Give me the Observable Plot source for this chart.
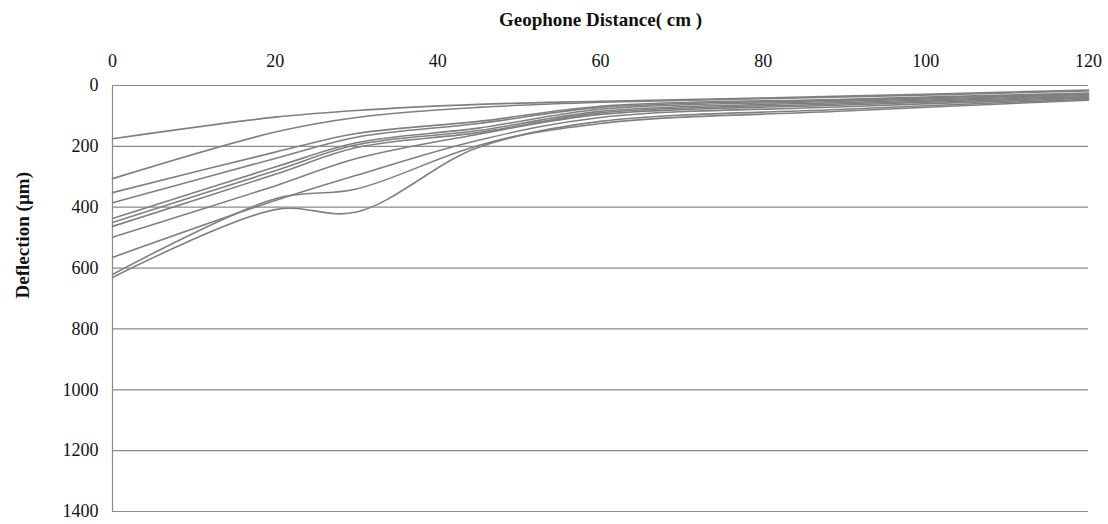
<!DOCTYPE html>
<html>
<head>
<meta charset="utf-8">
<script src="https://cdn.jsdelivr.net/npm/d3@7"></script>
<script src="https://cdn.jsdelivr.net/npm/@observablehq/plot@0.6"></script>
<style>
  html, body { margin: 0; padding: 0; background: #fff; }
  #chart svg { display: block; }
</style>
</head>
<body>
<div id="chart"></div>
<script>
// Geophone positions (cm)
const distances = [0, 20, 30, 45, 60, 90, 120];
// Deflection basins (µm), one array per test
const test1  = [175, 104, 82, 62, 52, 35, 15];
const test2  = [306, 153, 105, 72, 55, 38, 18];
const test3  = [352, 219, 158, 118, 68, 45, 25];
const test4  = [385, 240, 170, 125, 72, 48, 28];
const test5  = [437, 268, 188, 140, 78, 52, 30];
const test6  = [450, 280, 195, 148, 85, 56, 33];
const test7  = [463, 292, 204, 155, 90, 60, 36];
const test8  = [499, 330, 240, 160, 95, 64, 39];
const test9  = [565, 378, 295, 180, 105, 70, 42];
const test10 = [621, 372, 340, 197, 118, 78, 45];
const test11 = [631, 408, 416, 203, 125, 84, 48];
const series = [test1, test2, test3, test4, test5, test6, test7, test8, test9, test10, test11];

const xTicks = [0, 20, 40, 60, 80, 100, 120];
const yTicks = [0, 200, 400, 600, 800, 1000, 1200, 1400];

const xTitle = "Geophone Distance( cm )";
const yTitle = "Deflection (µm)";

const rows = series.flatMap((vals, i) =>
  vals.map((v, j) => ({test: "T" + (i + 1), d: distances[j], defl: v})));

const chart = Plot.plot({
  width: 1108,
  height: 524,
  marginLeft: 112,
  marginRight: 20,
  marginTop: 85,
  marginBottom: 13,
  style: {fontFamily: "'Liberation Serif', 'Times New Roman', serif", fontSize: "18px", color: "#111", background: "#fff"},
  x: {domain: [0, 120], ticks: xTicks},
  y: {domain: [0, 1400], reverse: true, ticks: yTicks},
  marks: [
    Plot.ruleY(yTicks, {stroke: "#8a8a8a", strokeWidth: 1.2}),
    Plot.ruleX([0], {stroke: "#8a8a8a", strokeWidth: 1.2}),
    Plot.line(rows, {x: "d", y: "defl", z: "test", curve: "catmull-rom", stroke: "#808080", strokeWidth: 1.6}),
    Plot.axisX(xTicks, {anchor: "top", tickSize: 0, tickPadding: 19, label: null, fontSize: 18, tickFormat: d3.format("d")}),
    Plot.axisY(yTicks, {anchor: "left", tickSize: 0, tickPadding: 14, label: null, fontSize: 18, tickFormat: d3.format("d")}),
    Plot.text([xTitle], {frameAnchor: "top", dy: -73, fontWeight: "bold", fontSize: 19}),
    Plot.text([yTitle], {frameAnchor: "left", dx: -90, rotate: -90, fontWeight: "bold", fontSize: 19})
  ]
});
document.getElementById("chart").appendChild(chart);
</script>
</body>
</html>
